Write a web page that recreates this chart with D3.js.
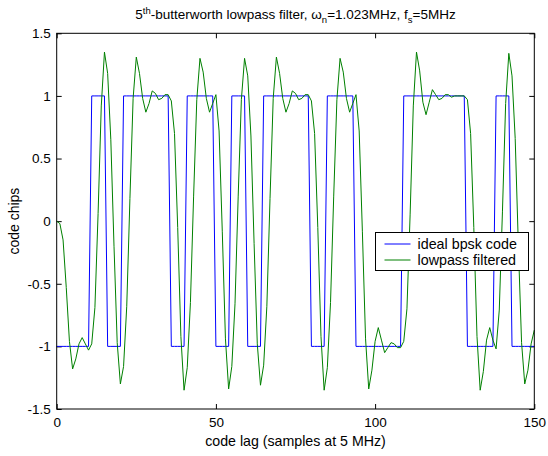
<!DOCTYPE html>
<html>
<head>
<meta charset="utf-8">
<script src="https://cdn.jsdelivr.net/npm/d3@7"></script>
<style>
  body { margin: 0; background: #fff; }
  svg { display: block; font-family: "Liberation Sans", Arial, Helvetica, sans-serif; }
</style>
</head>
<body>
<div id="chart"></div>
<script>
const width = 548
const height = 456

// sample index (code lag, samples at 5 MHz)
const lagDomain = [0, 150]
const chipDomain = [-1.5, 1.5]
const xTicks = [0, 50, 100, 150]
const yTicks = [-1.5, -1, -0.5, 0, 0.5, 1, 1.5]

// ideal bpsk code, one value per sample
const idealCode = [
  -1,-1,-1,-1,-1,-1,-1,-1,-1,-1,
  -1, 1, 1, 1, 1, 1,-1,-1,-1,-1,
  -1, 1, 1, 1, 1, 1, 1, 1, 1, 1,
   1, 1, 1, 1, 1, 1,-1,-1,-1,-1,
  -1, 1, 1, 1, 1, 1, 1, 1, 1, 1,
  -1,-1,-1,-1,-1, 1, 1, 1, 1, 1,
  -1,-1,-1,-1,-1, 1, 1, 1, 1, 1,
   1, 1, 1, 1, 1, 1, 1, 1, 1, 1,
  -1,-1,-1,-1,-1, 1, 1, 1, 1, 1,
   1, 1, 1, 1,-1,-1,-1,-1,-1,-1,
  -1,-1,-1,-1,-1,-1,-1,-1,-1, 1,
   1, 1, 1, 1, 1, 1, 1, 1, 1, 1,
   1, 1, 1, 1, 1, 1, 1, 1, 1,-1,
  -1,-1,-1,-1,-1,-1,-1,-1, 1, 1,
   1, 1, 1,-1,-1,-1,-1,-1,-1,-1,
  -1
]

// lowpass filtered code
const filteredCode = [
   0.00,-0.02,-0.15,-0.53,-0.96,-1.18,-1.10,-0.98,-0.93,-0.98,
  -1.03,-0.98,-0.69, 0.06, 0.92, 1.35, 1.18, 0.65,-0.20,-0.97,
  -1.30,-1.16,-0.68, 0.18, 0.98, 1.31, 1.18, 0.98, 0.87, 0.94,
   1.04, 1.02, 0.97, 0.98, 1.01, 1.01, 0.96, 0.70,-0.05,-0.92,
  -1.35,-1.17,-0.65, 0.20, 0.97, 1.30, 1.19, 0.98, 0.87, 0.94,
   1.01, 0.72,-0.08,-0.94,-1.34,-1.16,-0.66, 0.20, 0.97, 1.30,
   1.16, 0.68,-0.18,-0.98,-1.31,-1.15,-0.68, 0.18, 0.98, 1.31,
   1.18, 0.98, 0.87, 0.94, 1.04, 1.02, 0.97, 0.98, 1.01, 1.01,
   0.96, 0.70,-0.05,-0.92,-1.35,-1.17,-0.65, 0.20, 0.97, 1.30,
   1.19, 0.98, 0.87, 0.94, 1.01, 0.72,-0.08,-0.94,-1.34,-1.19,
  -0.96,-0.85,-0.95,-1.05,-1.01,-0.97,-0.98,-1.01,-1.01,-0.96,
  -0.70, 0.05, 0.92, 1.35, 1.20, 0.95, 0.85, 0.95, 1.05, 1.01,
   0.97, 0.98, 1.01, 1.01, 0.99, 1.00, 1.00, 1.00, 1.00, 0.97,
   0.70,-0.05,-0.92,-1.35,-1.20,-0.95,-0.85,-0.95,-1.02,-0.71,
   0.08, 0.94, 1.34, 1.16, 0.66,-0.20,-0.97,-1.30,-1.19,-0.98,
  -0.87
]

const seriesNames = ['ideal bpsk code', 'lowpass filtered']
const seriesColors = ['#0000ff', '#008000']

const plot = {left: 56.7, right: 534.3, top: 33.3, bottom: 409}

let x = d3.scaleLinear().domain(lagDomain).range([plot.left, plot.right])
let y = d3.scaleLinear().domain(chipDomain).range([plot.bottom, plot.top])

let svg = d3.select('#chart')
  .append('svg')
  .attr('width', width)
  .attr('height', height)

svg.append('rect')
  .attr('width', width)
  .attr('height', height)
  .attr('fill', 'white')

let fmt = d => String(d)

// axes with ticks pointing inwards (matlab style)
svg.append('g')
  .attr('transform', `translate(0,${plot.bottom})`)
  .call(d3.axisBottom(x).tickValues(xTicks).tickSizeInner(-5).tickSizeOuter(0).tickPadding(8).tickFormat(fmt))
svg.append('g')
  .attr('transform', `translate(0,${plot.top})`)
  .call(d3.axisTop(x).tickValues(xTicks).tickSizeInner(-5).tickSizeOuter(0).tickFormat(''))
svg.append('g')
  .attr('transform', `translate(${plot.left},0)`)
  .call(d3.axisLeft(y).tickValues(yTicks).tickSizeInner(-5).tickSizeOuter(0).tickPadding(6).tickFormat(fmt))
svg.append('g')
  .attr('transform', `translate(${plot.right},0)`)
  .call(d3.axisRight(y).tickValues(yTicks).tickSizeInner(-5).tickSizeOuter(0).tickFormat(''))

svg.selectAll('.tick text')
  .attr('font-size', 13.5)
  .attr('fill', 'black')
svg.selectAll('.domain').remove()

// lines
let line = d3.line()
  .x((d, i) => x(i))
  .y(d => y(d))

let curves = svg.append('g')
curves.append('path')
  .datum(idealCode)
  .attr('d', line)
  .attr('fill', 'none')
  .attr('stroke', seriesColors[0])
  .attr('stroke-width', 1)
curves.append('path')
  .datum(filteredCode)
  .attr('d', line)
  .attr('fill', 'none')
  .attr('stroke', seriesColors[1])
  .attr('stroke-width', 1)

// frame
svg.append('rect')
  .attr('x', plot.left)
  .attr('y', plot.top)
  .attr('width', plot.right - plot.left)
  .attr('height', plot.bottom - plot.top)
  .attr('fill', 'none')
  .attr('stroke', 'black')
  .attr('stroke-width', 1)

// title with super/subscripts
let title = svg.append('text')
  .attr('x', (plot.left + plot.right) / 2)
  .attr('y', 19)
  .attr('text-anchor', 'middle')
  .attr('font-size', 13.5)
title.append('tspan').text('5')
title.append('tspan').attr('font-size', 9.5).attr('dy', -5).text('th')
title.append('tspan').attr('dy', 5).text('-butterworth lowpass filter, \u03c9')
title.append('tspan').attr('font-size', 9.5).attr('dy', 4).text('n')
title.append('tspan').attr('dy', -4).text('=1.023MHz, f')
title.append('tspan').attr('font-size', 9.5).attr('dy', 4).text('s')
title.append('tspan').attr('dy', -4).text('=5MHz')

svg.append('text')
  .attr('x', (plot.left + plot.right) / 2)
  .attr('y', 446)
  .attr('text-anchor', 'middle')
  .attr('font-size', 14.2)
  .text('code lag (samples at 5 MHz)')

svg.append('text')
  .attr('transform', `translate(19,${(plot.top + plot.bottom) / 2}) rotate(-90)`)
  .attr('text-anchor', 'middle')
  .attr('font-size', 14)
  .text('code chips')

// legend
let legend = svg.append('g').attr('transform', 'translate(375.5,232.5)')
legend.append('rect')
  .attr('width', 153)
  .attr('height', 38)
  .attr('fill', 'white')
  .attr('stroke', 'black')
legend.selectAll('line')
  .data(seriesNames)
  .join('line')
  .attr('x1', 9)
  .attr('x2', 35)
  .attr('y1', (d, i) => 11.5 + i * 16)
  .attr('y2', (d, i) => 11.5 + i * 16)
  .attr('stroke', (d, i) => seriesColors[i])
legend.selectAll('text')
  .data(seriesNames)
  .join('text')
  .attr('x', 42)
  .attr('y', (d, i) => 16.5 + i * 16)
  .attr('font-size', 14.3)
  .text(d => d)
</script>
</body>
</html>
